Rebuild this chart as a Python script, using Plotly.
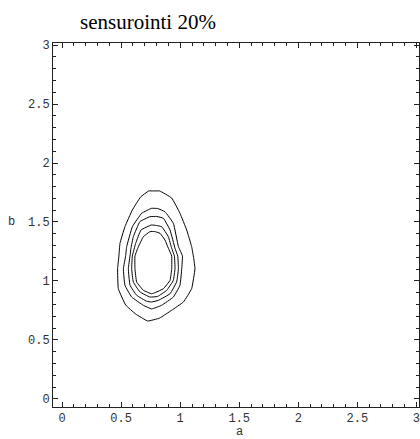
import plotly.graph_objects as go

# Contour levels (outer -> inner), data units (a, b)
c1_a = [0.733, 0.775, 0.826, 0.928, 0.998, 1.055, 1.097, 1.114, 1.125, 1.097, 1.027, 0.928, 0.826, 0.725, 0.623, 0.538, 0.476, 0.470, 0.481, 0.490, 0.532, 0.595, 0.665, 0.733]
c1_b = [1.763, 1.763, 1.763, 1.703, 1.574, 1.432, 1.291, 1.195, 1.104, 0.935, 0.822, 0.752, 0.686, 0.661, 0.720, 0.797, 0.935, 1.104, 1.212, 1.319, 1.460, 1.602, 1.712, 1.763]

c2_a = [0.758, 0.809, 0.871, 0.942, 0.985, 1.019, 1.013, 0.998, 0.942, 0.843, 0.758, 0.688, 0.589, 0.532, 0.519, 0.538, 0.547, 0.595, 0.674, 0.758]
c2_b = [1.616, 1.614, 1.587, 1.489, 1.291, 1.212, 1.104, 0.964, 0.864, 0.794, 0.763, 0.794, 0.864, 0.964, 1.104, 1.212, 1.291, 1.460, 1.574, 1.616]

c3_a = [0.744, 0.801, 0.858, 0.914, 0.956, 0.979, 0.985, 0.970, 0.914, 0.815, 0.758, 0.716, 0.631, 0.575, 0.561, 0.575, 0.583, 0.603, 0.659, 0.744]
c3_b = [1.545, 1.547, 1.531, 1.432, 1.277, 1.212, 1.104, 0.992, 0.892, 0.836, 0.822, 0.828, 0.879, 0.964, 1.104, 1.212, 1.277, 1.375, 1.503, 1.545]

c4_a = [0.758, 0.801, 0.843, 0.900, 0.928, 0.951, 0.956, 0.942, 0.886, 0.809, 0.744, 0.659, 0.603, 0.589, 0.595, 0.623, 0.668, 0.758]
c4_b = [1.475, 1.470, 1.460, 1.375, 1.277, 1.212, 1.104, 1.006, 0.921, 0.869, 0.864, 0.907, 0.992, 1.104, 1.212, 1.319, 1.432, 1.475]

c5_a = [0.744, 0.784, 0.829, 0.871, 0.900, 0.928, 0.928, 0.914, 0.858, 0.792, 0.758, 0.688, 0.631, 0.617, 0.617, 0.646, 0.688, 0.744]
c5_b = [1.418, 1.419, 1.404, 1.347, 1.277, 1.212, 1.104, 1.006, 0.935, 0.903, 0.892, 0.921, 0.992, 1.104, 1.212, 1.291, 1.375, 1.418]

tick_vals = [0, 0.5, 1, 1.5, 2, 2.5, 3]
tick_text = ["0", "0.5", "1", "1.5", "2", "2.5", "3"]

title_text = "sensurointi 20%"
x_label = "a"
y_label = "b"

fig = go.Figure()
for xs, ys in [(c1_a, c1_b), (c2_a, c2_b), (c3_a, c3_b), (c4_a, c4_b), (c5_a, c5_b)]:
    fig.add_trace(go.Scatter(x=xs, y=ys, mode="lines",
                             line=dict(color="black", width=1, shape="spline", smoothing=0.3),
                             showlegend=False, hoverinfo="skip"))

tickfont = dict(family="Liberation Mono", size=12, color="#333")
axis_common = dict(
    showgrid=False, zeroline=False, showline=True, linecolor="#222", linewidth=1,
    mirror="ticks", ticks="inside", ticklen=5, tickwidth=1, tickcolor="#222",
    tickvals=tick_vals, ticktext=tick_text, tickfont=tickfont,
    ticklabeloverflow="allow",
    minor=dict(dtick=0.1, tick0=0, ticks="inside", ticklen=3, tickwidth=1, tickcolor="#222"),
)

fig.update_xaxes(range=[-0.077, 3.022], ticklabelstandoff=0, **axis_common)
fig.update_yaxes(range=[-0.068, 3.017], ticklabelstandoff=0, **axis_common)

fig.update_layout(
    width=420, height=439,
    margin=dict(l=53, r=1, t=43, b=32),
    plot_bgcolor="white", paper_bgcolor="white",
    title=dict(text=title_text, x=80/420, xanchor="left", xref="container",
               y=1 - 22/439, yanchor="middle", yref="container",
               font=dict(family="Liberation Serif", size=21, color="black")),
    annotations=[
        dict(text=y_label, xref="paper", x=0, xanchor="right", xshift=-36,
             yref="y", y=1.5, yanchor="middle", showarrow=False, font=tickfont),
        dict(text=x_label, xref="x", x=1.5, xanchor="center",
             yref="paper", y=0, yanchor="top", yshift=-16, showarrow=False, font=tickfont),
    ],
)

fig.write_html("out.html")
